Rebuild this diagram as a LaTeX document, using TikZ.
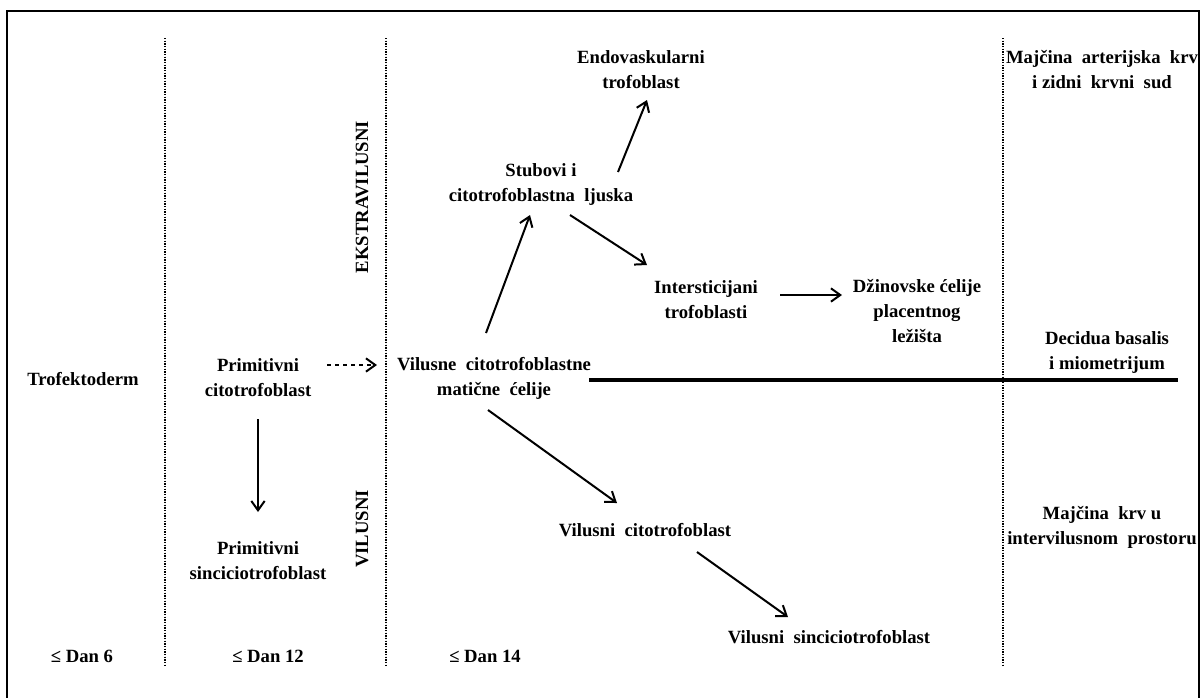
\documentclass[tikz,border=0pt]{standalone}
\usepackage{fontspec}
\setmainfont{Liberation Serif}
\usetikzlibrary{arrows.meta,calc}
\begin{document}
\begin{tikzpicture}[x=0.75pt,y=-0.75pt,
  lbl/.style={font=\fontsize{14pt}{18.75pt}\selectfont\bfseries, align=center, inner sep=0pt},
  arr/.style={line width=1.5pt, -{Straight Barb[length=7pt,width=10pt]}},
  sep/.style={line width=1.8pt, dash pattern=on 1pt off 1pt},
  framed/.style={line width=1.6pt},
  thickline/.style={line width=3.3pt}]
\useasboundingbox (0,0) rectangle (1203,697);
\draw[framed] (7,700) -- (7,11) -- (1199,11) -- (1199,700);
% column separators
\draw[sep] (165,38) -- (165,665);
\draw[sep] (386,38) -- (386,665);
\draw[sep] (1003,38) -- (1003,665);
% thick boundary line
\draw[thickline] (589,380) -- (1178,380);
% labels
\node[lbl, rotate=90] (ekstra) at (362,197) {EKSTRAVILUSNI};
\node[lbl, rotate=90] (vil) at (362,529) {VILUSNI};
\node[lbl] (trof) at (83,379) {Trofektoderm};
\node[lbl] (pc) at (258,378) {Primitivni\\citotrofoblast};
\node[lbl] (ps) at (258,561) {Primitivni\\sinciciotrofoblast};
\node[lbl] (vm) at (494,378) {Vilusne\ \ citotrofoblastne\\matične\ \ ćelije};
\node[lbl] (stub) at (541,185) {Stubovi i\\citotrofoblastna\ \ ljuska};
\node[lbl] (endo) at (641,70) {Endovaskularni\\trofoblast};
\node[lbl] (inter) at (706,300) {Intersticijani\\trofoblasti};
\node[lbl] (dzin) at (917,311) {Džinovske ćelije\\placentnog\\ležišta};
\node[lbl] (mak) at (1102,70) {Majčina\ \ arterijska\ \ krv\\i zidni\ \ krvni\ \ sud};
\node[lbl] (dec) at (1107,353) {Decidua basalis\\i miometrijum};
\node[lbl] (mkrv) at (1102,527) {Majčina\ \ krv u\\intervilusnom\ \ prostoru};
\node[lbl] (vc) at (645,530) {Vilusni\ \ citotrofoblast};
\node[lbl] (vs) at (829,637) {Vilusni\ \ sinciciotrofoblast};
\node[lbl] (d6) at (82,656) {≤ Dan 6};
\node[lbl] (d12) at (268,656) {≤ Dan 12};
\node[lbl] (d14) at (485,656) {≤ Dan 14};
% connectors
\draw[arr] ($(pc)+(0,41)$) -- ($(ps)+(0,-49)$);
\draw[arr, dashed] ($(pc)+(69,-13)$) -- ($(vm)+(-117,-13)$);
\draw[arr] ($(vm)+(-8,-45)$) -- ($(stub)+(-11,30)$);
\draw[arr] ($(stub)+(77,-13)$) -- ($(endo)+(6,30)$);
\draw[arr] ($(stub)+(29,30)$) -- ($(inter)+(-59,-35)$);
\draw[arr] ($(inter)+(74,-5)$) -- ($(dzin)+(-75,-16)$);
\draw[arr] ($(vm)+(-6,32)$) -- ($(vc)+(-28,-27)$);
\draw[arr] ($(vc)+(52,22)$) -- ($(vs)+(-41,-20)$);
\end{tikzpicture}
\end{document}
